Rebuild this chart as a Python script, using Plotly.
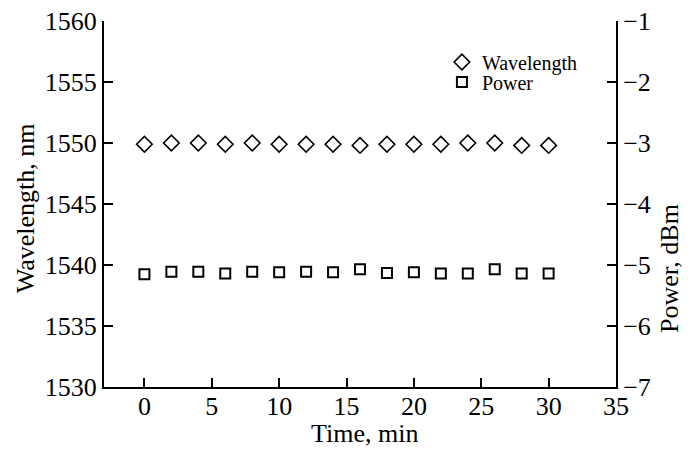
import plotly.graph_objects as go

time_min = [0, 2, 4, 6, 8, 10, 12, 14, 16, 18, 20, 22, 24, 26, 28, 30]
wavelength_nm = [1549.9, 1550.0, 1550.0, 1549.9, 1550.0, 1549.9, 1549.9, 1549.9,
                 1549.8, 1549.9, 1549.9, 1549.9, 1550.0, 1550.0, 1549.8, 1549.8]
power_dbm = [-5.15, -5.11, -5.11, -5.14, -5.11, -5.12, -5.11, -5.12,
             -5.07, -5.13, -5.12, -5.14, -5.14, -5.07, -5.14, -5.14]

x_ticks = [0, 5, 10, 15, 20, 25, 30, 35]
y_left_ticks = [1530, 1535, 1540, 1545, 1550, 1555, 1560]
y_right_ticks = [-7, -6, -5, -4, -3, -2, -1]

FONT = "Liberation Serif"

fig = go.Figure()
fig.add_trace(go.Scatter(
    x=time_min, y=wavelength_nm, mode="markers", name="Wavelength",
    marker=dict(symbol="diamond-open", size=12, color="black", line=dict(width=1.6, color="black")),
    yaxis="y", legend="legend",
))
fig.add_trace(go.Scatter(
    x=time_min, y=power_dbm, mode="markers", name="Power",
    marker=dict(symbol="square-open", size=10, color="black", line=dict(width=2, color="black")),
    yaxis="y2", legend="legend2",
))

axis_common = dict(
    showline=True, linecolor="black", linewidth=2,
    ticks="inside", ticklen=9, tickwidth=2, tickcolor="black",
    showgrid=False, zeroline=False, ticklabeloverflow="allow", automargin=False,
    tickfont=dict(family=FONT, size=26, color="black"),
)

legend_common = dict(xanchor="left", yanchor="middle", bgcolor="rgba(0,0,0,0)",
                     font=dict(family=FONT, size=20, color="black"))

# page body has an 8px margin, so the figure is shrunk accordingly
fig.update_layout(
    width=683, height=441,
    margin=dict(l=96, r=75, t=13, b=62, autoexpand=False),
    paper_bgcolor="white", plot_bgcolor="white",
    font=dict(family=FONT, color="black"),
    xaxis=dict(range=[-3, 35], tickvals=x_ticks, ticktext=[str(v) for v in x_ticks],
               ticklabelstandoff=-5, **axis_common),
    yaxis=dict(range=[1530, 1560], tickvals=y_left_ticks, ticktext=[str(v) for v in y_left_ticks], **axis_common),
    yaxis2=dict(range=[-7, -1], tickvals=y_right_ticks, ticktext=["\u2212" + str(abs(v)) for v in y_right_ticks],
                overlaying="y", side="right", **axis_common),
    showlegend=True,
    legend=dict(x=0.66, y=0.888, **legend_common),
    legend2=dict(x=0.66, y=0.833, **legend_common),
    annotations=[
        dict(text="Time, min", xref="paper", yref="paper", x=0.508, y=-0.126,
             xanchor="center", yanchor="middle", showarrow=False,
             font=dict(family=FONT, size=26, color="black")),
        dict(text="Wavelength, nm", xref="paper", yref="paper", x=-0.154, y=0.489,
             xanchor="center", yanchor="middle", showarrow=False, textangle=-90,
             font=dict(family=FONT, size=26, color="black")),
        dict(text="Power, dBm", xref="paper", yref="paper", x=1.1035, y=0.325,
             xanchor="center", yanchor="middle", showarrow=False, textangle=-90,
             font=dict(family=FONT, size=26, color="black")),
    ],
)

fig.write_html("out.html")
